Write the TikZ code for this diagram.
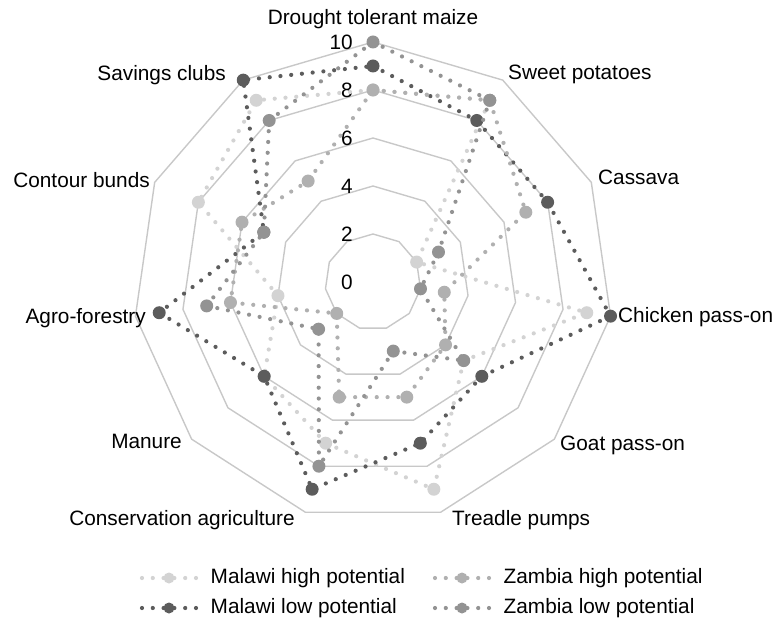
\documentclass[tikz,border=0pt]{standalone}
\usepackage{fontspec}
\setmainfont{Liberation Sans}
\definecolor{gridgray}{HTML}{C8C8C8}
\definecolor{mhigh}{HTML}{D3D3D3}
\definecolor{mlow}{HTML}{5C5C5C}
\definecolor{zhigh}{HTML}{B0B0B0}
\definecolor{zlow}{HTML}{939393}
\begin{document}
\begin{tikzpicture}[x=1pt,y=1pt,
  font=\fontsize{20.8}{24}\selectfont,
  ring/.style={draw=gridgray, line width=1.4pt, line join=miter},
  series/.style={line width=4.2pt, line cap=round, dash pattern=on 0pt off 10.8pt},
  keyline/.style={line width=4.2pt, line cap=round, dash pattern=on 0pt off 10.8pt},
  lbl/.style={inner sep=0pt},
]
\useasboundingbox (-373,-339) rectangle (405,282);

% radial grid: eleven-sided rings at 2, 4, ..., 10 (24pt per unit)
\foreach \v in {2,4,6,8,10}
  \draw[ring] (90:{24*\v}) \foreach \k in {1,...,10} { -- ({90-\k*360/11}:{24*\v}) } -- cycle;

% scale labels
\foreach \v in {0,2,4,6,8,10}
  \node[lbl, anchor=east] (tick\v) at (-20,{24*\v}) {\v};

% axis labels
\node[lbl, anchor=base] (ax0) at (0,257) {Drought tolerant maize};
\node[lbl, anchor=base west] (ax1) at (135,202) {Sweet potatoes};
\node[lbl, anchor=base west] (ax2) at (225,97) {Cassava};
\node[lbl, anchor=base west] (ax3) at (245,-40) {Chicken pass-on};
\node[lbl, anchor=base west] (ax4) at (187,-168) {Goat pass-on};
\node[lbl, anchor=base west] (ax5) at (79,-243) {Treadle pumps};
\node[lbl, anchor=base east] (ax6) at (-78,-243) {Conservation agriculture};
\node[lbl, anchor=base east] (ax7) at (-191,-166) {Manure};
\node[lbl, anchor=base east] (ax8) at (-227,-41) {Agro-forestry};
\node[lbl, anchor=base east] (ax9) at (-223,94) {Contour bunds};
\node[lbl, anchor=base east] (ax10) at (-147,201) {Savings clubs};

% data series: name/colour/values along the eleven axes
\foreach \s/\c/\vals in {
    mh/mhigh/{8,9,2,9,5,9,7,6,4,8,9},
    ml/mlow/{9,8,8,10,6,7,9,6,9,5,10},
    zh/zhigh/{8,9,7,3,4,5,5,2,6,6,5},
    zl/zlow/{10,9,3,2,5,3,8,3,7,5,8}} {
  \foreach \val [count=\i from 0] in \vals
    \coordinate (\s\i) at ({90-\i*360/11}:{24*\val});
  \draw[series, \c] (\s0) -- (\s1) -- (\s2) -- (\s3) -- (\s4) -- (\s5)
     -- (\s6) -- (\s7) -- (\s8) -- (\s9) -- (\s10) -- cycle;
  \foreach \i in {0,...,10}
    \fill[\c] (\s\i) circle (6.5);
}

% legend
\foreach \c/\x/\y/\txt/\n in {
    mhigh/-231/-296/Malawi high potential/ka,
    mlow/-231/-326/Malawi low potential/kb,
    zhigh/62/-296/Zambia high potential/kc,
    zlow/62/-326/Zambia low potential/kd} {
  \coordinate (\n a) at (\x,\y);
  \coordinate (\n b) at (\x+54,\y);
  \coordinate (\n m) at (\x+27,\y);
  \draw[keyline, \c] (\n a) -- (\n b);
  \fill[\c] (\n m) circle (5.5);
  \node[lbl, anchor=west] (\n t) at (\x+68.5,\y) {\txt};
}
\end{tikzpicture}
\end{document}
